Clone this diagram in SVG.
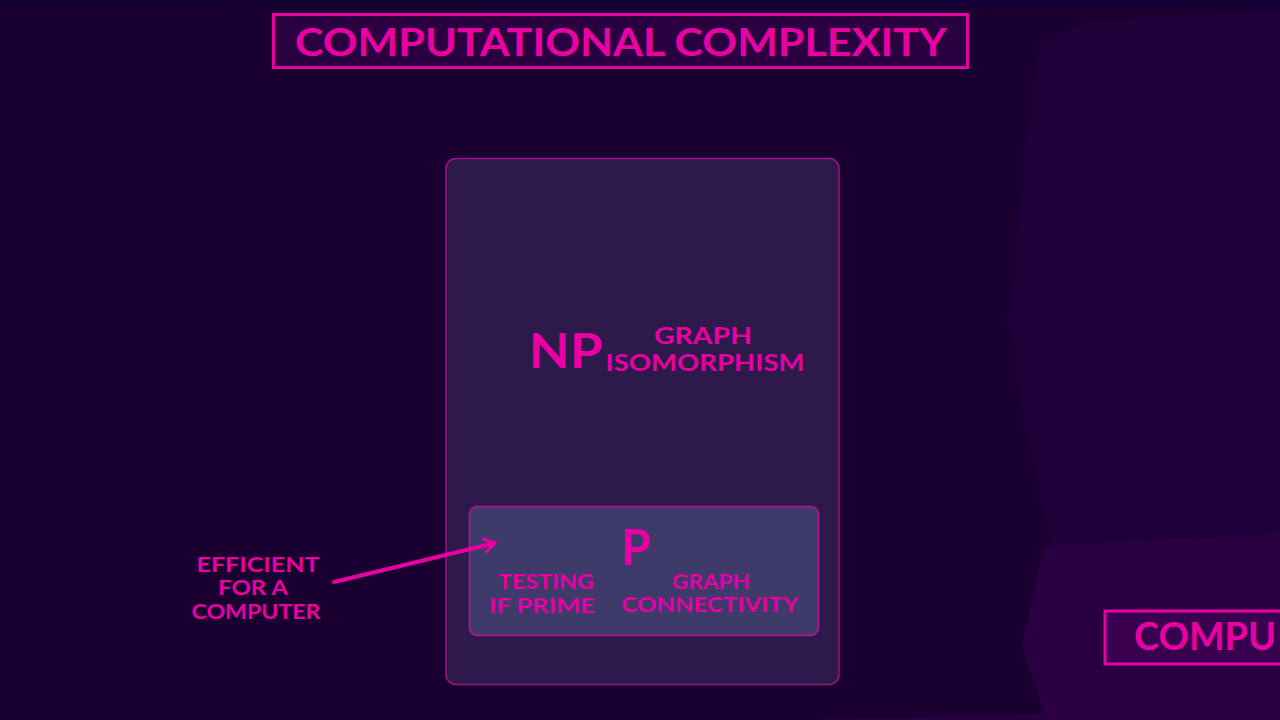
<svg xmlns="http://www.w3.org/2000/svg" width="1280" height="720" viewBox="0 0 1280 720">
<defs>
<style>
.t{font-family:Lato,"Liberation Sans",sans-serif;font-weight:bold;fill:#e800a2;text-anchor:middle}
.lbl{font-size:20px}
</style>
<marker id="ah" viewBox="0 0 12 12" refX="9" refY="6" markerWidth="4" markerHeight="4" orient="auto" markerUnits="strokeWidth">
<path d="M1,1 L9,6 L1,11" fill="none" stroke="#e800a2" stroke-width="2.4" stroke-linecap="round" stroke-linejoin="round"/>
</marker>
</defs>
<rect width="1280" height="720" fill="#1a0030"/>
<polygon points="0,0 1280,0 1280,10 0,6" fill="#150034"/>
<polygon points="1040,41 1090,21 1280,10 1280,533 1052,546 1023,413 1010,321 1027,138" fill="#200038"/>
<polygon points="1043,546 1280,533 1280,720 1047,720 1022,647" fill="#2a0042"/>
<polygon points="800,720 1047,714 1048,720" fill="#260040"/>
<g id="title">
<rect x="273.5" y="14.5" width="694" height="53" fill="#2a0040" stroke="#e800a2" stroke-width="3"/>
<text class="t" x="621" y="56" font-size="38" textLength="652" lengthAdjust="spacingAndGlyphs">COMPUTATIONAL COMPLEXITY</text>
</g>
<g id="np">
<rect x="446" y="158.5" width="393" height="526" rx="10" fill="#2e1a4a" stroke="#a0108a" stroke-width="1.5"/>
<text class="t" x="566" y="368" font-size="48" textLength="74" lengthAdjust="spacingAndGlyphs">NP</text>
<text class="t" x="703" y="344" font-size="22" textLength="98" lengthAdjust="spacingAndGlyphs">GRAPH</text>
<text class="t" x="705" y="371" font-size="22" textLength="199" lengthAdjust="spacingAndGlyphs">ISOMORPHISM</text>
</g>
<g id="p">
<rect x="469.5" y="506.5" width="349" height="129" rx="8" fill="#3e3a6a" stroke="#c0109a" stroke-width="1.5"/>
<text class="t" x="636" y="565" font-size="50" textLength="30" lengthAdjust="spacingAndGlyphs">P</text>
<text class="t lbl" x="546" y="589" textLength="96" lengthAdjust="spacingAndGlyphs">TESTING</text>
<text class="t lbl" x="542" y="613" textLength="106" lengthAdjust="spacingAndGlyphs">IF PRIME</text>
<text class="t lbl" x="711" y="589" textLength="78" lengthAdjust="spacingAndGlyphs">GRAPH</text>
<text class="t lbl" x="710" y="612" textLength="177" lengthAdjust="spacingAndGlyphs">CONNECTIVITY</text>
</g>
<g id="efficient">
<text class="t lbl" x="258" y="572" textLength="123" lengthAdjust="spacingAndGlyphs">EFFICIENT</text>
<text class="t lbl" x="253" y="595" textLength="70" lengthAdjust="spacingAndGlyphs">FOR A</text>
<text class="t lbl" x="256" y="619" textLength="129" lengthAdjust="spacingAndGlyphs">COMPUTER</text>
</g>
<g id="connectors">
<line x1="334" y1="582" x2="495" y2="543" stroke="#e800a2" stroke-width="4" stroke-linecap="round" marker-end="url(#ah)"/>
</g>
<g id="title2">
<rect x="1105" y="611" width="190" height="53" fill="#3a0050" stroke="#e800a2" stroke-width="3"/>
<text class="t" x="1134" y="650" font-size="38" style="text-anchor:start" textLength="142" lengthAdjust="spacingAndGlyphs">COMPU</text>
</g>
</svg>
